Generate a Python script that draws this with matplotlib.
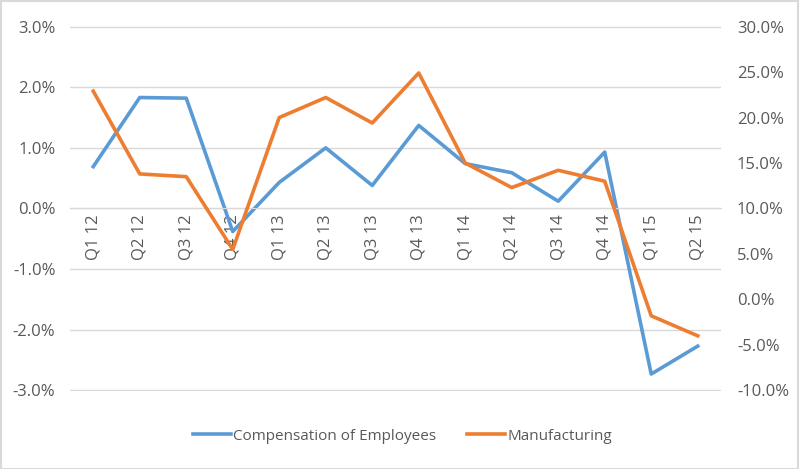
import matplotlib.pyplot as plt
from matplotlib.ticker import FuncFormatter, MultipleLocator
from matplotlib.patches import Rectangle

# Datos
quarters = ["Q1 12", "Q2 12", "Q3 12", "Q4 12", "Q1 13", "Q2 13", "Q3 13",
            "Q4 13", "Q1 14", "Q2 14", "Q3 14", "Q4 14", "Q1 15", "Q2 15"]
compensation = [0.69, 1.83, 1.82, -0.38, 0.43, 1.00, 0.38,
                1.37, 0.74, 0.59, 0.12, 0.93, -2.73, -2.27]
manufacturing = [22.9, 13.8, 13.5, 5.5, 20.0, 22.2, 19.4,
                 24.9, 15.0, 12.3, 14.2, 13.0, -1.8, -4.0]

blue = "#5B9BD5"
orange = "#ED7D31"
grey_text = "#595959"
grid_col = "#D9D9D9"

plt.rcParams['font.family'] = ['Open Sans', 'DejaVu Sans']

fig = plt.figure(figsize=(8, 4.69), dpi=100)
ax = fig.add_axes([0.0875, 0.1663, 0.8137, 0.7783])
ax2 = ax.twinx()

x = list(range(len(quarters)))
l1, = ax.plot(x, compensation, color=blue, lw=2.6, solid_joinstyle='round',
              label="Compensation of Employees")
l2, = ax2.plot(x, manufacturing, color=orange, lw=2.6, solid_joinstyle='round',
               label="Manufacturing")
ax2.set_zorder(ax.get_zorder() + 1)

# margen minimo para que la linea de -3% no quede recortada
m = 0.01
ax.set_xlim(-0.5, len(quarters) - 0.5)
ax.set_ylim(-3 - m, 3 + m)
ax2.set_ylim(-10 - m * 40 / 6, 30 + m * 40 / 6)
ax.yaxis.set_major_locator(MultipleLocator(1))
ax2.yaxis.set_major_locator(MultipleLocator(5))
ax.yaxis.set_major_formatter(FuncFormatter(lambda v, p: "%.1f%%" % v))
ax2.yaxis.set_major_formatter(FuncFormatter(lambda v, p: "%.1f%%" % v))

ax.grid(axis='y', color=grid_col, lw=1.0)
ax.set_axisbelow(True)

for a in (ax, ax2):
    for s in ("top", "left", "right", "bottom"):
        a.spines[s].set_visible(False)
    a.tick_params(length=0, labelsize=12, labelcolor=grey_text)

# eje de categorias cruzando en 0
ax.spines["bottom"].set_visible(True)
ax.spines["bottom"].set_position(("data", 0))
ax.spines["bottom"].set_color(grid_col)
ax.set_xticks(x)
ax.set_xticklabels(quarters, rotation=90)
ax.tick_params(axis='x', pad=4)
ax.tick_params(axis='y', pad=10.5)
ax2.tick_params(axis='y', pad=11.5)

fig.legend(handles=[l1, l2], loc='center', bbox_to_anchor=(0.503, 0.07),
           ncol=2, frameon=False, fontsize=11, labelcolor=grey_text,
           handlelength=2.5, handletextpad=0.15, columnspacing=2.0)

fig.patches.append(Rectangle((0.001, 0.001), 0.997, 0.997, transform=fig.transFigure,
                             fill=False, edgecolor="#D9D9D9", lw=1.5))

fig.savefig("out.png", dpi=100)
